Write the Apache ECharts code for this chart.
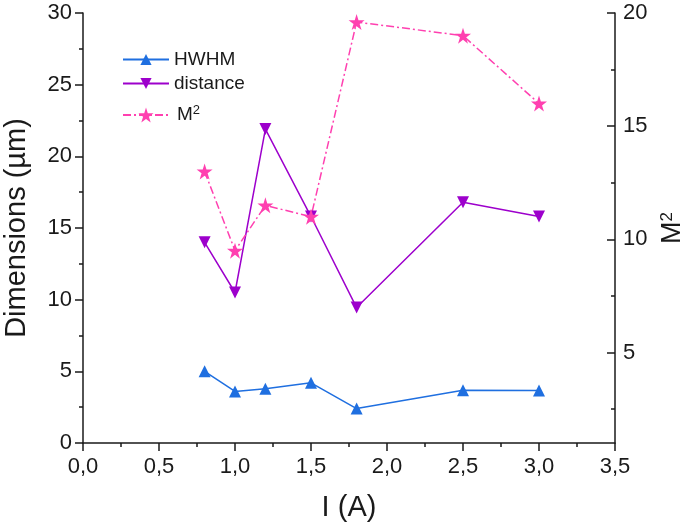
<!DOCTYPE html>
<html><head><meta charset="utf-8">
<script src="https://cdn.jsdelivr.net/npm/echarts@6/dist/echarts.min.js"></script>
<style>html,body{margin:0;padding:0;background:#fff}#c{width:685px;height:525px}</style>
</head><body><div id="c"></div>
<script>
const current = [0.8, 1.0, 1.2, 1.5, 1.8, 2.5, 3.0];
const hwhm = [5.0, 3.6, 3.78, 4.2, 2.4, 3.68, 3.66];
const distance = [14.0, 10.5, 21.9, 15.8, 9.45, 16.8, 15.8];
const m2 = [13.0, 9.5, 11.5, 11.0, 19.6, 19.0, 16.0];
const rightMajor = [5, 10, 15, 20];
const rightMinor = [2.5, 7.5, 12.5, 17.5];

const FONT = 'Liberation Sans, Arial, sans-serif';
const INK = '#1a1a1a';
const pair = (ys) => current.map((x, i) => [x, ys[i]]);
const chart = echarts.init(document.getElementById('c'));
const axisLine = {show: true, lineStyle: {color: INK, width: 1.5}};
const legendText = {fontFamily: FONT, fontSize: 19, color: INK,
  rich: {sup: {fontSize: 13, verticalAlign: 'top', padding: [0, 0, 9, 0], fontFamily: FONT, color: INK},
         n: {fontSize: 19, fontFamily: FONT, color: INK, padding: [0, 0, 0, 3]}}};
const STAR = 'path://M50,0 L61.8,36.2 L100,36.2 L69.1,58.6 L80.9,95.1 L50,72.6 L19.1,95.1 L30.9,58.6 L0,36.2 L38.2,36.2 Z';
chart.setOption({
  animation: false,
  grid: {left: 83, right: 70, top: 13, bottom: 82, outerBoundsMode: 'none', containLabel: false},
  legend: [
    {orient: 'vertical', left: 117, top: 45, itemWidth: 46, itemHeight: 14, itemGap: 5,
      textStyle: legendText, data: ['HWHM', 'distance']},
    {orient: 'vertical', left: 117, top: 99, itemWidth: 46, itemHeight: 19, itemGap: 5,
      textStyle: legendText, formatter: () => '{n|M}{sup|2}', data: ['M2']}
  ],
  xAxis: {
    type: 'value', min: 0, max: 3.5, interval: 0.5,
    name: 'I (A)', nameLocation: 'middle', nameGap: 50,
    nameTextStyle: {fontFamily: FONT, fontSize: 29, color: INK},
    axisLine: axisLine,
    axisTick: {show: true, length: 8, lineStyle: {color: INK, width: 1.5}},
    minorTick: {show: true, splitNumber: 2, length: 4, lineStyle: {color: INK, width: 1.5}},
    splitLine: {show: false},
    axisLabel: {fontFamily: FONT, fontSize: 22, color: INK, margin: 13,
      formatter: (v) => v.toFixed(1).replace('.', ',')}
  },
  yAxis: [
    {
      type: 'value', min: 0, max: 30, interval: 5, position: 'left',
      name: 'Dimensions (µm)', nameLocation: 'middle', nameGap: 52,
      nameTextStyle: {fontFamily: FONT, fontSize: 29, color: INK},
      axisLine: axisLine,
      axisTick: {show: true, length: 8, lineStyle: {color: INK, width: 1.5}},
      minorTick: {show: true, splitNumber: 2, length: 4, lineStyle: {color: INK, width: 1.5}},
      splitLine: {show: false},
      axisLabel: {fontFamily: FONT, fontSize: 22, color: INK, margin: 11}
    },
    {
      type: 'value', min: 1, max: 20, position: 'right',
      name: '{n|M}{sup|2}', nameLocation: 'middle', nameGap: 40, nameRotate: 90,
      nameTextStyle: {fontFamily: FONT, fontSize: 27, color: INK,
        rich: {n: {fontFamily: FONT, fontSize: 27, color: INK}, sup: {fontFamily: FONT, fontSize: 17, color: INK, verticalAlign: 'top', padding: [0, 0, 11, 0]}}},
      axisLine: axisLine,
      axisTick: {show: true, inside: true, length: 8, customValues: rightMajor, lineStyle: {color: INK, width: 1.5}},
      splitLine: {show: false},
      axisLabel: {fontFamily: FONT, fontSize: 22, color: INK, margin: 8, customValues: rightMajor}
    },
    {
      type: 'value', min: 1, max: 20, position: 'right',
      axisLine: {show: false},
      axisTick: {show: true, inside: true, length: 4, customValues: rightMinor, lineStyle: {color: INK, width: 1.5}},
      splitLine: {show: false},
      axisLabel: {show: false}
    }
  ],
  series: [
    {name: 'HWHM', type: 'line', yAxisIndex: 0, data: pair(hwhm),
      symbol: 'triangle', symbolSize: 12, color: '#1f6fe0',
      lineStyle: {width: 1.5, color: '#1f6fe0'}, itemStyle: {color: '#1f6fe0'}},
    {name: 'distance', type: 'line', yAxisIndex: 0, data: pair(distance),
      symbol: 'triangle', symbolRotate: 180, symbolSize: 12, color: '#9d00cc',
      lineStyle: {width: 1.5, color: '#9d00cc'}, itemStyle: {color: '#9d00cc'}},
    {name: 'M2', type: 'line', yAxisIndex: 1, data: pair(m2),
      symbol: STAR, symbolSize: 16, color: '#ff40b0',
      lineStyle: {width: 1.5, color: '#ff40b0', type: [8, 3, 2, 3]}, itemStyle: {color: '#ff40b0'}}
  ]
});
</script></body></html>
